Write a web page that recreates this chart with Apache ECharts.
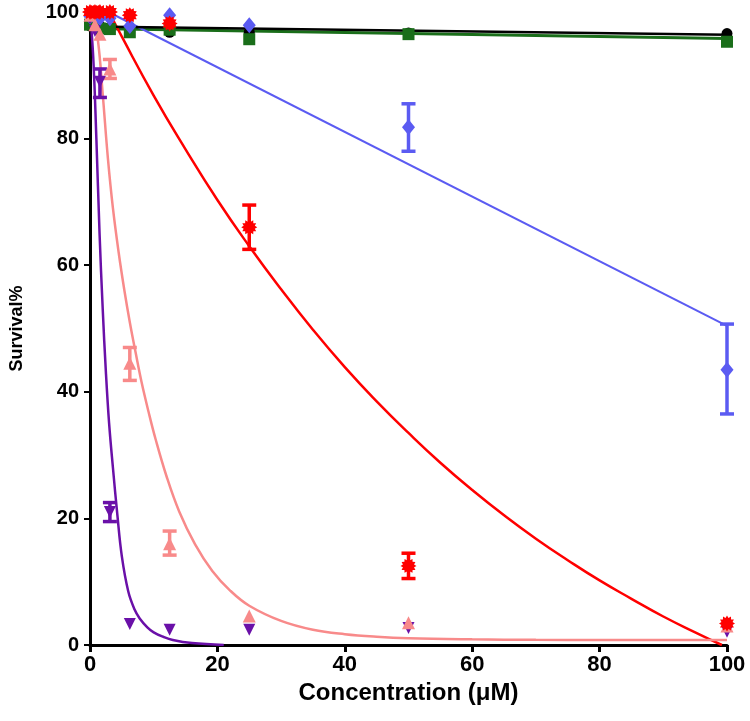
<!DOCTYPE html>
<html>
<head>
<meta charset="utf-8">
<script src="https://cdn.jsdelivr.net/npm/echarts@6/dist/echarts.min.js"></script>
<style>html,body{margin:0;padding:0;background:#fff}#c{width:750px;height:721px}</style>
</head>
<body>
<div id="c"></div>
<script>
// ---- data ----
const conc = [0, 0.78, 1.56, 3.125, 6.25, 12.5, 25, 50, 100];
const blackPts  = [97.8, 97.9, 97.8, 97.6, 97.4, 96.8, 96.8, 96.7, 96.6];
const greenPts  = [98.0, 98.0, 97.4, 97.3, 96.8, 97.2, 95.7, 96.5, 95.3];
const bluePts   = [99.3, 99.2, 99.0, 99.0, 97.8, 99.5, 97.9, 81.8, 43.5];
const redPts    = [100, 100, 100, 100, 99.5, 98.2, 66.0, 12.5, 3.4];
const pinkPts   = [99.5, 98.0, 96.5, 91.0, 44.5, 16.0, 4.6, 3.5, 3.0];
const purplePts = [99.0, 97.0, 89.0, 21.0, 3.3, 2.4, 2.4, 2.7, 2.1];

// error bars: [x, low, high]
const blueErr   = [[50, 78.0, 85.5], [100, 36.5, 50.7]];
const redErr    = [[25, 62.5, 69.5], [50, 10.5, 14.5]];
const pinkErr   = [[3.125, 89.5, 92.5], [6.25, 41.8, 47.0], [12.5, 14.2, 18.0]];
const purpleErr = [[1.56, 86.5, 91.0], [3.125, 19.5, 22.5]];

// fitted curves
const blackFitX = [0, 100],  blackFitY = [97.7, 96.4];
const greenFitX = [0, 100],  greenFitY = [97.4, 95.8];
const blueFitX  = [2.9, 100], blueFitY = [100, 50.4];
const redFitX   = [3, 5, 10, 15, 20, 25, 30, 35, 40, 45, 50, 55, 60, 65, 70, 75, 80, 85, 90, 95, 99.2];
const redFitY   = [100, 96.1, 86.8, 78.3, 70.3, 63.0, 56.2, 49.8, 43.9, 38.5, 33.5, 28.8, 24.5, 20.5, 16.8, 13.4, 10.2, 7.3, 4.5, 2.0, 0];
const pinkFitX  = [0, 0.6, 1.25, 2, 2.8, 3.6, 4.5, 5.4, 6.25, 7.2, 8.1, 9.2, 10.3, 12, 14, 16.5, 19.2, 22, 25, 30, 35, 40, 45, 50, 60, 70, 80, 100];
const pinkFitY  = [100, 98.5, 95.5, 87, 77, 69, 62, 56, 51, 46, 41.5, 36.8, 32.5, 26.7, 21.1, 15.9, 11.7, 8.6, 6.2, 3.8, 2.4, 1.7, 1.3, 1.07, 0.9, 0.82, 0.8, 0.8];
const purpleFitX = [0, 0.5, 1, 1.5, 2, 2.5, 3, 3.6, 4.3, 5, 6, 7, 7.8, 9, 10, 11.5, 13, 16, 21];
const purpleFitY = [100, 93, 80, 65, 53, 43, 35, 28, 20.5, 14, 8.5, 5.6, 4.2, 2.8, 2.0, 1.3, 0.8, 0.3, 0];

const xTicks = [0, 20, 40, 60, 80, 100];
const yTicks = [0, 20, 40, 60, 80, 100];

// ---- styles ----
const C = {black:'#000000', green:'#1a6e1a', blue:'#5b5bf2', red:'#ff0000', pink:'#f88a8a', purple:'#6a10a8'};
const FONT = 'Liberation Sans, Arial, sans-serif';

function burst(){
  let d = '', n = 24;
  for (let i = 0; i < n; i++){
    const r = (i % 2 === 0) ? 1 : 0.72;
    const a = Math.PI * 2 * i / n;
    const x = (Math.cos(a) * r).toFixed(3), y = (Math.sin(a) * r).toFixed(3);
    d += (i === 0 ? 'M' : 'L') + x + ' ' + y + ' ';
  }
  return 'path://' + d + 'Z';
}

function zip(xs, ys){ return xs.map((x, i) => [x, ys[i]]); }

function fitSeries(xs, ys, color, width, smooth, z){
  return {type:'line', data: zip(xs, ys), showSymbol:false, symbol:'none', smooth: smooth,
    lineStyle:{color: color, width: width}, z: z, silent:true, clip:true};
}
function ptSeries(ys, color, symbol, size, rot, z){
  return {type:'scatter', data: zip(conc, ys), symbol: symbol, symbolSize: size, symbolRotate: rot || 0,
    itemStyle:{color: color, opacity:1}, z: z, silent:true, clip:false};
}
function errSeries(arr, color, z){
  return {type:'custom', data: arr, z: z, silent:true, clip:false,
    renderItem: function(params, api){
      const x = api.value(0), lo = api.value(1), hi = api.value(2);
      const p1 = api.coord([x, lo]), p2 = api.coord([x, hi]);
      const w = 7;
      const st = {stroke: color, lineWidth: 3.5};
      return {type:'group', children:[
        {type:'line', shape:{x1:p1[0], y1:p1[1], x2:p2[0], y2:p2[1]}, style: st},
        {type:'line', shape:{x1:p1[0]-w, y1:p1[1], x2:p1[0]+w, y2:p1[1]}, style: st},
        {type:'line', shape:{x1:p2[0]-w, y1:p2[1], x2:p2[0]+w, y2:p2[1]}, style: st}
      ]};
    }};
}

const chart = echarts.init(document.getElementById('c'), null, {renderer:'canvas'});
chart.setOption({
  animation:false,
  backgroundColor:'#ffffff',
  grid:{left:87, right:23, top:12, bottom:76, containLabel:false},
  xAxis:{type:'value', min:0, max:100, interval:20,
    name:'Concentration (\u03bcM)', nameLocation:'middle', nameGap:32,
    nameTextStyle:{fontFamily:FONT, fontWeight:'bold', fontSize:24, color:'#000'},
    axisLine:{show:true, onZero:false, lineStyle:{color:'#000', width:3}},
    axisTick:{show:true, inside:false, length:7, lineStyle:{color:'#000', width:3}},
    axisLabel:{fontFamily:FONT, fontWeight:'bold', fontSize:22, color:'#000', margin:9,
      formatter: v => xTicks.includes(v) ? String(v) : ''},
    splitLine:{show:false}},
  yAxis:{type:'value', min:0, max:100, interval:20,
    name:'Survival%', nameLocation:'middle', nameGap:64, nameRotate:90,
    nameTextStyle:{fontFamily:FONT, fontWeight:'bold', fontSize:18, color:'#000'},
    axisLine:{show:true, onZero:false, lineStyle:{color:'#000', width:3}},
    axisTick:{show:true, inside:false, length:6, lineStyle:{color:'#000', width:2}},
    axisLabel:{fontFamily:FONT, fontWeight:'bold', fontSize:20, color:'#000', margin:11,
      formatter: v => yTicks.includes(v) ? String(v) : ''},
    splitLine:{show:false}},
  series:[
    fitSeries(greenFitX, greenFitY, C.green, 3, false, 2),
    fitSeries(blackFitX, blackFitY, C.black, 2.5, false, 3),
    fitSeries(blueFitX, blueFitY, C.blue, 2, false, 2),
    fitSeries(redFitX, redFitY, C.red, 2.5, 0.5, 2),
    fitSeries(pinkFitX, pinkFitY, C.pink, 2.5, 0.4, 2),
    fitSeries(purpleFitX, purpleFitY, C.purple, 2.5, 0.4, 2),
    errSeries(blueErr, C.blue, 4),
    errSeries(redErr, C.red, 4),
    errSeries(pinkErr, C.pink, 4),
    errSeries(purpleErr, C.purple, 4),
    ptSeries(blackPts, C.black, 'circle', 11, 0, 5),
    ptSeries(greenPts, C.green, 'rect', 12, 0, 6),
    ptSeries(bluePts, C.blue, 'diamond', [13, 16], 0, 7),
    ptSeries(purplePts, C.purple, 'triangle', 12, 180, 8),
    ptSeries(pinkPts, C.pink, 'triangle', 13, 0, 8),
    ptSeries(redPts, C.red, burst(), 16, 0, 9)
  ]
});
</script>
</body>
</html>
